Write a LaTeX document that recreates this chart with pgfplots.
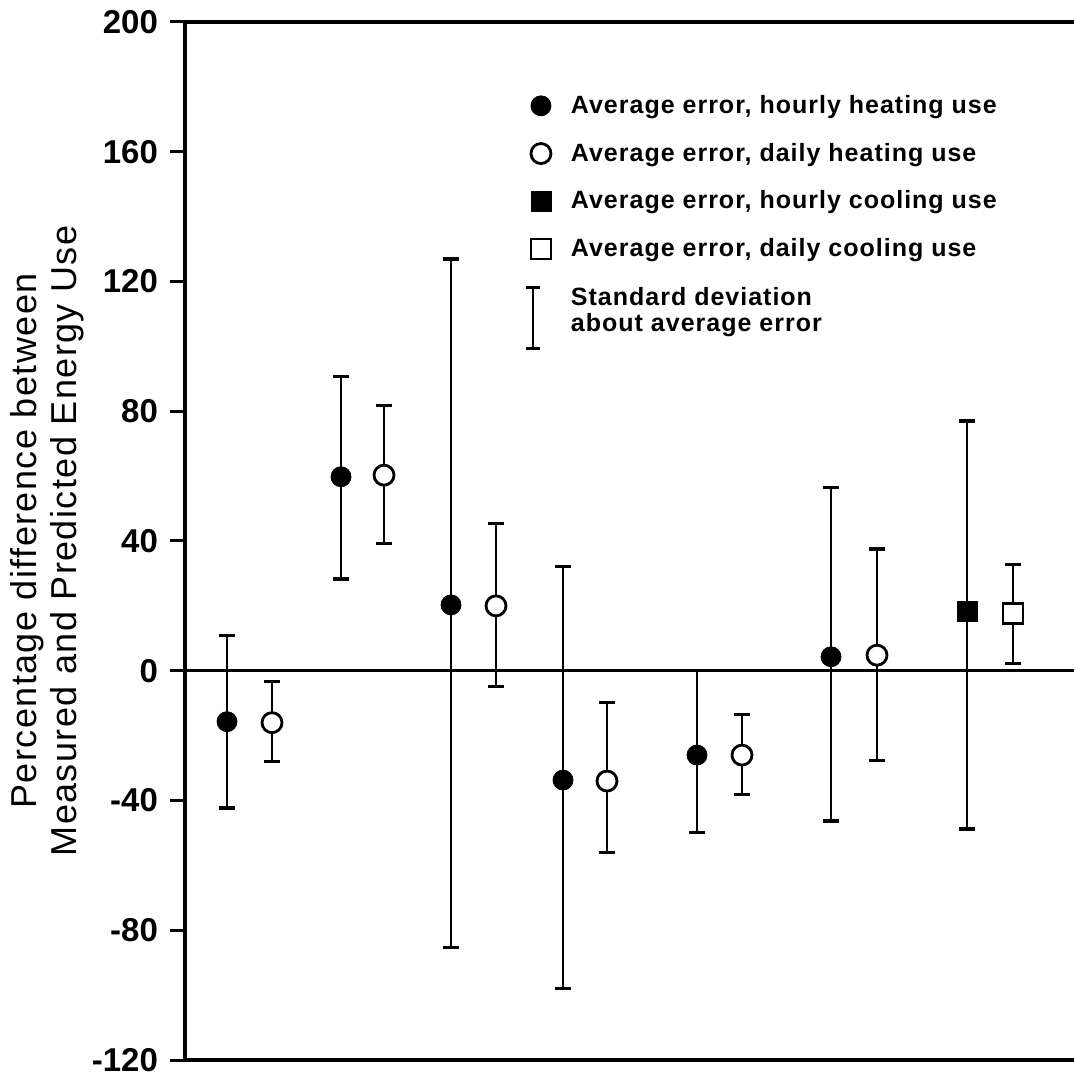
\documentclass[border=0pt]{standalone}
\usepackage{pgfplots}
\usepackage{pgfplotstable}
\pgfplotsset{compat=1.18}
\usepackage{fontspec}
\setmainfont{Liberation Sans}
\newfontfamily\widefont[LetterSpace=4]{Liberation Sans}

\pgfplotstableread{
x y ep em
227 -15.7 26.5 26.6
341 59.8 30.9 31.5
451 20.3 106.6 105.7
563 -33.7 65.8 64.2
697 -26.0 26.0 23.8
831 4.3 52.1 50.6
}\hourlyheat

\pgfplotstableread{
x y ep em
272 -16.0 12.6 12.0
384 60.3 21.4 21.0
496 20.0 25.4 24.9
607 -34.0 24.3 22.1
742 -26.0 12.6 12.1
877 4.8 32.7 32.5
}\dailyheat

\pgfplotstableread{
x y ep em
967 18.2 58.8 67.0
}\hourlycool

\pgfplotstableread{
x y ep em
1013 17.7 15.1 15.4
}\dailycool

\begin{document}
\begin{tikzpicture}
\useasboundingbox (-92.5pt,-9.5pt) rectangle (444.5pt,530pt);
\begin{axis}[
  at={(0pt,0pt)}, anchor=south west,
  scale only axis, width=444.5pt, height=519pt,
  xmin=185, xmax=1074, ymin=-120, ymax=200,
  axis x line*=box, axis y line*=left,
  axis line style={line width=2.4pt},
  xtick=\empty,
  ytick={-120,-80,...,200},
  tick align=outside,
  major tick length=7.5pt,
  every tick/.style={black, line width=1.5pt},
  yticklabel style={font=\bfseries\fontsize{16.5}{16.5}\selectfont, xshift=-2.5pt},
  /pgf/number format/assume math mode=true,
  ylabel={Percentage difference between\\Measured and Predicted Energy Use},
  ylabel style={align=center, font=\widefont\fontsize{18}{20}\selectfont,
    at={([xshift=-69pt]axis description cs:0,0.5)}, anchor=center},
  clip=false,
  legend cell align=left,
  legend style={at={(axis cs:518,180)}, anchor=north west, draw=none, fill=none,
    font=\widefont\bfseries\fontsize{12.5}{14}\selectfont, row sep=9.3pt, column sep=8pt},
  error bars/y dir=both, error bars/y explicit,
  error bars/error bar style={line width=1pt, black},
  error bars/error mark options={line width=1.7pt, mark size=4pt, black, rotate=90},
]
\addplot[forget plot, line width=1.5pt, black] coordinates {(185,0) (1074,0)};

\addplot[only marks, black, mark=*, mark size=5pt]
  table[x=x, y=y, y error plus=ep, y error minus=em]{\hourlyheat};
\addlegendentry{Average error, hourly heating use}

\addplot[only marks, black, mark=*, mark size=5pt, mark options={fill=white, line width=1.4pt}]
  table[x=x, y=y, y error plus=ep, y error minus=em]{\dailyheat};
\addlegendentry{Average error, daily heating use}

\addplot[only marks, black, mark=square*, mark size=5pt]
  table[x=x, y=y, y error plus=ep, y error minus=em]{\hourlycool};
\addlegendentry{Average error, hourly cooling use}

\addplot[only marks, black, mark=square*, mark size=5pt, mark options={fill=white, line width=1.4pt}]
  table[x=x, y=y, y error plus=ep, y error minus=em]{\dailycool};
\addlegendentry{Average error, daily cooling use}

\addlegendimage{legend image code/.code={
  \draw[line width=0.9pt] (4.5pt,-25.5pt) -- (4.5pt,4.7pt);
  \draw[line width=1.5pt] (1pt,-25.5pt) -- (8pt,-25.5pt);
  \draw[line width=1.5pt] (1pt,4.7pt) -- (8pt,4.7pt);}}
\addlegendentry{\raisebox{-7pt}{\begin{tabular}{@{}l@{}}Standard deviation\\[-1pt]about average error\end{tabular}}}
\end{axis}
\end{tikzpicture}
\end{document}
